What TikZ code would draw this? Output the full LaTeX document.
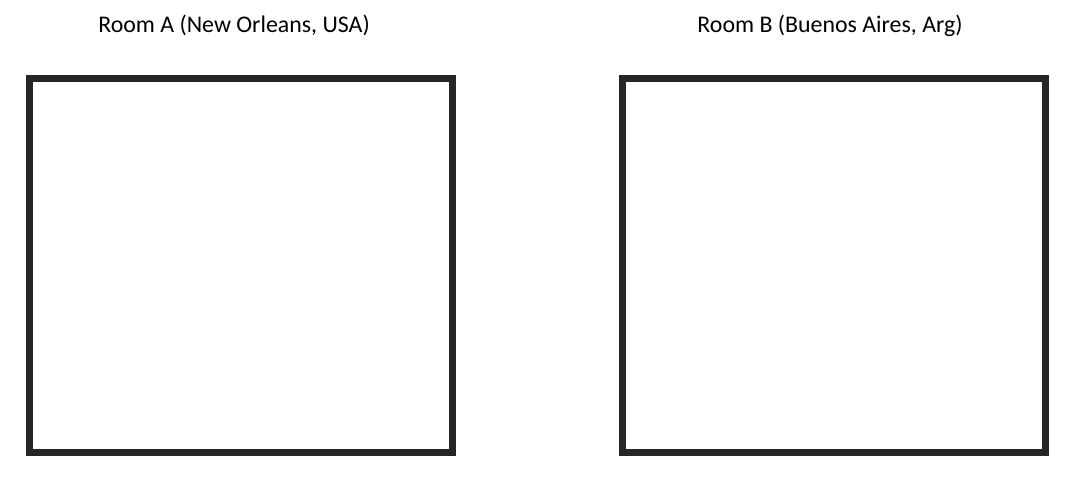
\documentclass[tikz,border=0pt]{standalone}
\usepackage{fontspec}
\setmainfont{Carlito}
\definecolor{wallgray}{HTML}{262626}
\begin{document}
\begin{tikzpicture}[x=0.75pt,y=-0.75pt]
  % Fix the canvas to the reference size (1076 x 490)
  \useasboundingbox (0,0) rectangle (1076,490);

  % Corners of the two rooms
  \coordinate (A1) at (29.5, 78.5);    % Room A top left
  \coordinate (A2) at (452.5, 452.5);  % Room A bottom right
  \coordinate (B1) at (622.5, 78.5);   % Room B top left
  \coordinate (B2) at (1045.5, 452.5); % Room B bottom right

  % Draw the rooms
  \draw[line width=5.25pt, wallgray] (A1) rectangle (A2);
  \draw[line width=5.25pt, wallgray] (B1) rectangle (B2);

  % Titles above the rooms
  \node[anchor=base, font=\fontsize{17.9}{21}\selectfont] (titleA) at (234, 32) {Room A (New Orleans, USA)};
  \node[anchor=base, font=\fontsize{17.9}{21}\selectfont] (titleB) at (830, 32) {Room B (Buenos Aires, Arg)};

\end{tikzpicture}
\end{document}
